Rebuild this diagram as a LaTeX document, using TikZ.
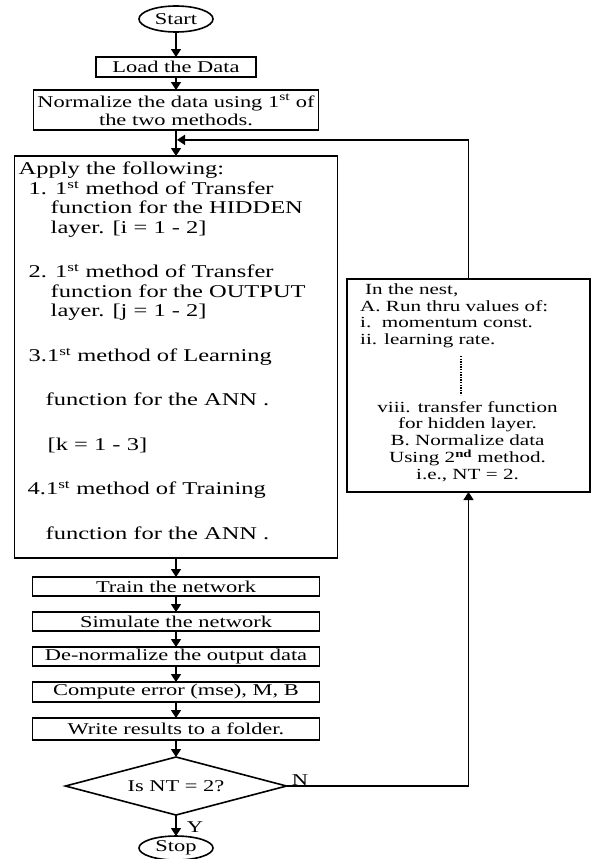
\documentclass[tikz,border=0pt]{standalone}
\usepackage{fontspec}
\setmainfont{Liberation Serif}[FakeStretch=1.36]
\usetikzlibrary{arrows.meta,positioning,calc,shapes.geometric}

\begin{document}
\begin{tikzpicture}[x=1bp,y=1bp,
  font=\fontsize{16.5bp}{18.5bp}\selectfont,
  box/.style={draw,line width=1.6bp,inner sep=0pt,outer sep=0pt,align=center},
  proc/.style={box,minimum width=287bp,minimum height=19bp},
  term/.style={ellipse,draw,line width=1.6bp,inner sep=0pt,outer sep=0pt,
               minimum width=74bp,minimum height=26bp},
  fl/.style={-{Triangle[length=8bp,width=10bp]},line width=1.6bp},
  txt/.style={inner sep=0pt,align=left}
]
\useasboundingbox (0,0) rectangle (591,-859);

\node[term] (start) at (176,-19) {Start};
\node[box,minimum width=160bp,minimum height=20bp,below=25bp of start] (load) {Load the Data};
\node[box,minimum width=285bp,minimum height=40bp,below=13bp of load] (norm)
  {Normalize the data using 1\textsuperscript{st} of\\the two methods.};
\node[box,minimum width=323bp,minimum height=402bp,below=26bp of norm] (apply) {};
\node[txt,anchor=north west,font=\fontsize{18bp}{19.5bp}\selectfont] (applytext)
  at ($(apply.north west)+(4,-6)$)
  {Apply the following:\\
   \hspace*{10bp}1. 1\textsuperscript{st} method of Transfer\\
   \hspace*{32bp}function for the HIDDEN\\
   \hspace*{32bp}layer. [i = 1 - 2]\\[25bp]
   \hspace*{10bp}2. 1\textsuperscript{st} method of Transfer\\
   \hspace*{32bp}function for the OUTPUT\\
   \hspace*{32bp}layer. [j = 1 - 2]\\[25bp]
   \hspace*{10bp}3.1\textsuperscript{st} method of Learning\\[25bp]
   \hspace*{27bp}function for the ANN .\\[25bp]
   \hspace*{29bp}[k = 1 - 3]\\[25bp]
   \hspace*{9bp}4.1\textsuperscript{st} method of Training\\[25bp]
   \hspace*{27bp}function for the ANN .};

\node[proc,below=19bp of apply] (train) {Train the network};
\node[proc,below=16bp of train] (sim) {Simulate the network};
\node[proc,below=16bp of sim] (denorm) {De-normalize the output data};
\node[proc,minimum height=20bp,below=16bp of denorm] (comp) {Compute error (mse), M, B};
\node[proc,minimum height=22bp,below=16bp of comp] (write) {Write results to a folder.};
\node[diamond,draw,line width=1.6bp,aspect=3.8,inner sep=0pt,outer sep=0pt,
      minimum width=221bp,minimum height=58bp,below=17bp of write] (dec) {Is NT = 2?};
\node[term,minimum height=24bp,below=21bp of dec] (stop) {Stop};

\foreach \a/\b in {start/load,load/norm,norm/apply,apply/train,train/sim,sim/denorm,
                   denorm/comp,comp/write,write/dec,dec/stop} \draw[fl] (\a) -- (\b);

\node (nlab) at (300,-780) {N};
\node (ylab) at (195,-827) {Y};

% the nest
\node[box,minimum width=243bp,minimum height=213bp] (nest) at (468.5,-385.5) {};
\node[txt,anchor=north west,font=\fontsize{15.5bp}{16.5bp}\selectfont] (nesttop)
  at ($(nest.north west)+(13,-5)$)
  {\hspace*{5bp}In the nest,\\A. Run thru values of:\\i.\ \ momentum const.\\ii. learning rate.};
\node[txt,align=center,anchor=north,font=\fontsize{15.5bp}{16.8bp}\selectfont] (nestbot)
  at ($(nest.north)+(-1,-122)$)
  {viii. transfer function\\for hidden layer.\\B. Normalize data\\Using 2\textsuperscript{\textbf{nd}} method.\\i.e., NT = 2.};
\draw[line width=1.8bp,dash pattern=on 1.3bp off 1.3bp]
  ($(nest.north)+(-7.5,-77)$) -- ++(0,-39);

% loop back
\coordinate (join) at ($(norm.south)!0.38!(apply.north)$);
\draw[fl] (dec.east) -- (dec.east -| nest.south) -- (nest.south);
\draw[fl,shorten >=1bp] (nest.north) |- (join);

\end{tikzpicture}
\end{document}
